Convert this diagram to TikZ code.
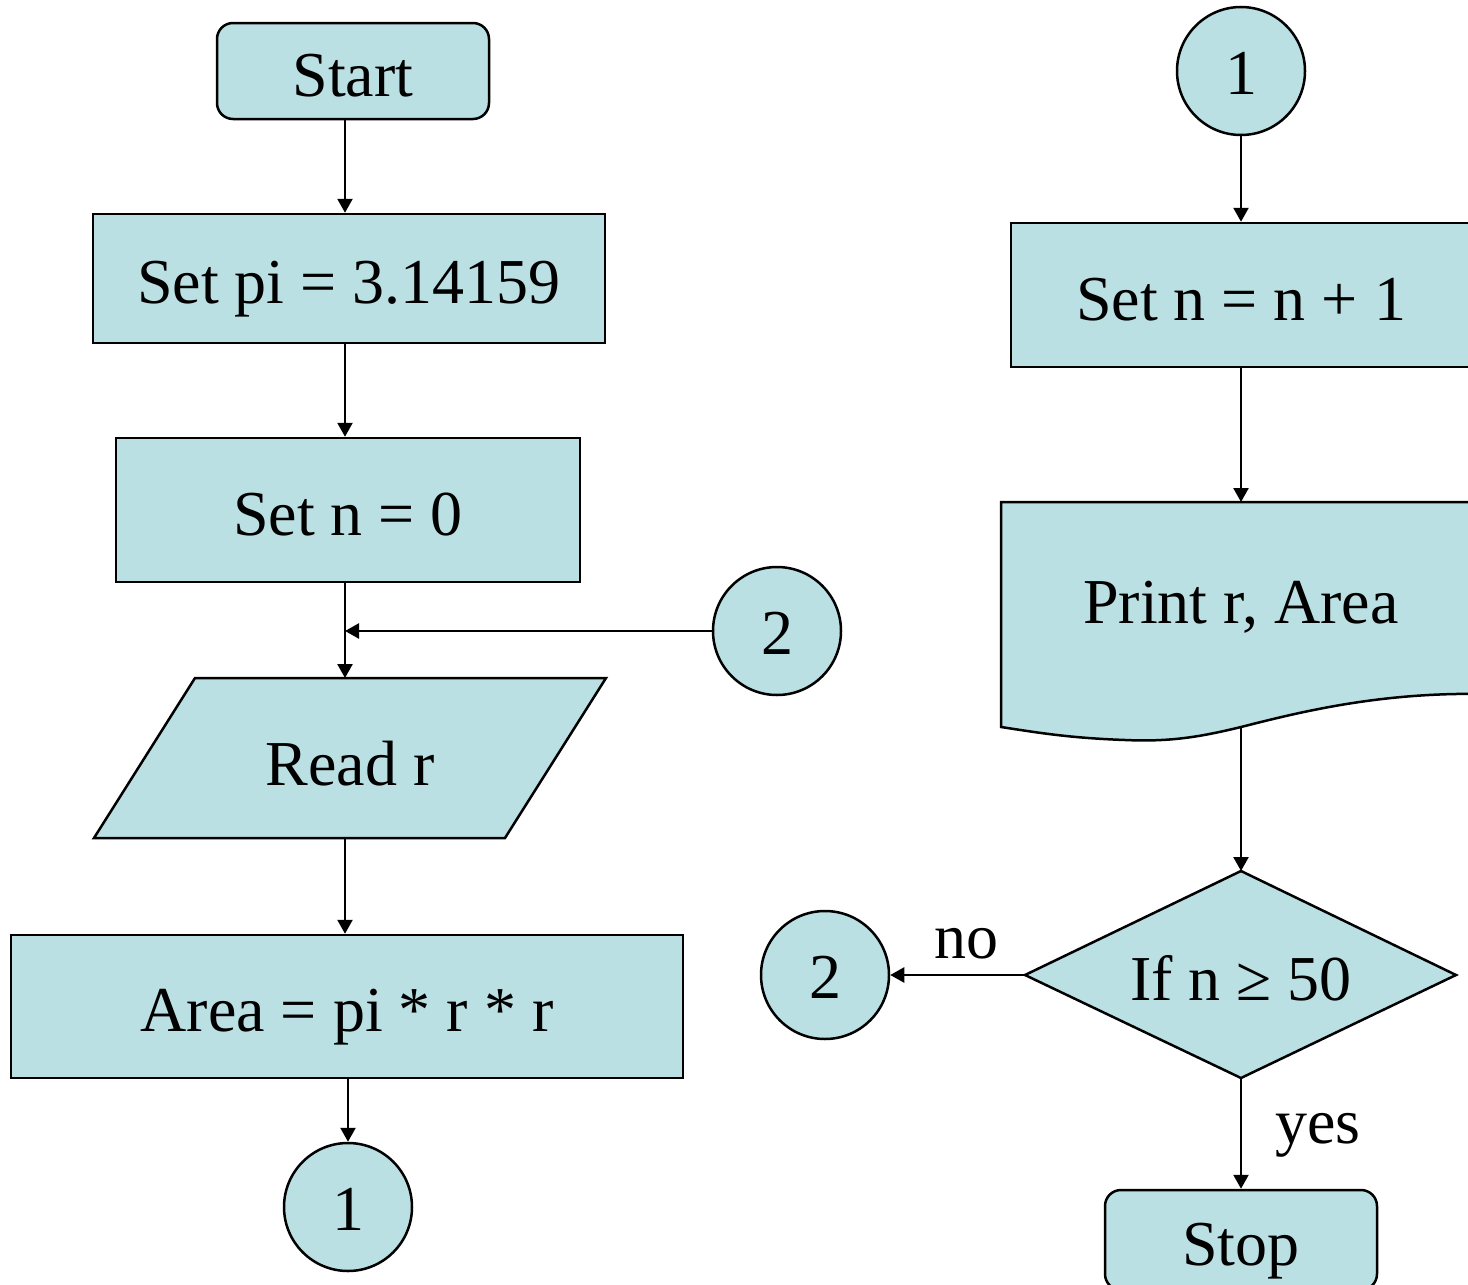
\documentclass[tikz,border=0pt]{standalone}
\usepackage{fontspec}
\setmainfont{Liberation Serif}
\usetikzlibrary{arrows.meta,shapes.geometric}
\definecolor{fc}{HTML}{BAE0E3}
\begin{document}
\begin{tikzpicture}[x=0.5pt,y=-0.5pt,
 txt/.style={font=\fontsize{32}{38}\selectfont, inner sep=0pt, text height=25pt, text depth=0pt},
 box/.style={txt, draw, fill=fc, line width=1.25pt},
 rbox/.style={box, rounded corners=8pt},
 conn/.style={box, circle, minimum size=64pt, text height=23pt},
 shp/.style={draw, fill=fc, line width=1.25pt},
 arr/.style={line width=1.25pt, -{Triangle[length=7pt,width=7.5pt]}}
]
\useasboundingbox (0,0) rectangle (1468,1285);
% left column
\coordinate (lx) at (345,0);
\node[rbox, minimum width=136pt, minimum height=48pt] (start) at (353,71) {Start};
\node[box, minimum width=256pt, minimum height=64.5pt] (setpi) at (349,278.5) {Set pi = 3.14159};
\node[box, minimum width=232pt, minimum height=72pt] (setn) at (348,510) {Set n = 0};
\draw[shp] (195,678) -- (606,678) -- (505,838) -- (94,838) -- cycle;
\node[txt] (readr) at (350,760) {Read r};
\coordinate (rtop) at (345,678);
\coordinate (rbot) at (345,838);
\node[box, minimum width=336pt, minimum height=71.5pt] (area) at (347,1006.5) {Area = pi * r * r};
\node[conn] (c1a) at (348,1207) {1};
\node[conn] (c2a) at (777,631) {2};
\coordinate (join) at (345,631);
\draw[arr] (start.south -| lx) -- (setpi.north -| lx);
\draw[arr] (setpi.south -| lx) -- (setn.north -| lx);
\draw[arr] (setn.south -| lx) -- (rtop);
\draw[arr] (c2a.west) -- (join);
\draw[arr] (rbot) -- (area.north -| lx);
\draw[arr] (area.south -| c1a) -- (c1a.north);
% right column
\node[conn] (c1b) at (1241,71) {1};
\node[box, minimum width=230pt, minimum height=72pt] (setn1) at (1241,295) {Set n = n + 1};
\draw[shp] (1001,502) -- (1485,502) -- (1485,694)
  .. controls (1380,692) and (1300,712) .. (1241,727)
  .. controls (1200,737) and (1170,742) .. (1125,740)
  .. controls (1070,738) and (1040,733) .. (1001,727) -- cycle;
\node[txt] (print) at (1241,598) {Print r, Area};
\coordinate (ptop) at (1241,502);
\coordinate (pbot) at (1241,727);
\draw[shp] (1241,871) -- (1456,975) -- (1241,1078) -- (1025,975) -- cycle;
\node[txt] (ifn) at (1241,975) {If n ≥ 50};
\coordinate (dtop) at (1241,871);
\coordinate (dleft) at (1025,975);
\coordinate (dbot) at (1241,1078);
\node[conn] (c2b) at (825,975) {2};
\node[rbox, minimum width=136pt, minimum height=50pt] (stop) at (1241,1240) {Stop};
\draw[arr] (c1b.south) -- (setn1.north);
\draw[arr] (setn1.south) -- (ptop);
\draw[arr] (pbot) -- (dtop);
\draw[arr] (dleft) -- (c2b.east);
\draw[arr] (dbot) -- (stop.north);
\node[txt] (no) at (966,933) {no};
\node[txt] (yes) at (1318,1118) {yes};
\end{tikzpicture}
\end{document}
